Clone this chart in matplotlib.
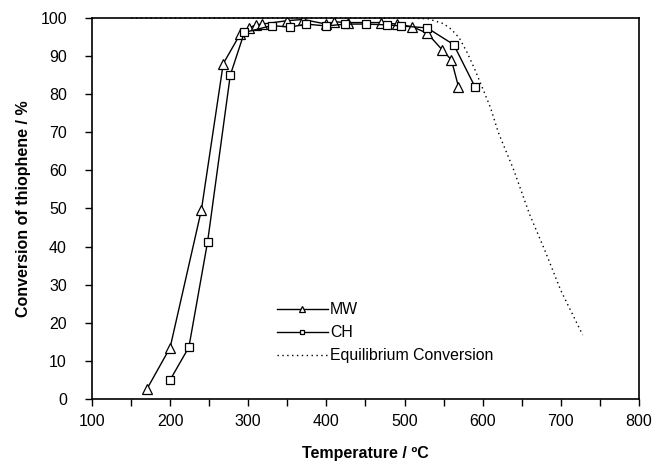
import numpy as np
import matplotlib.pyplot as plt

plt.rcParams['font.family'] = ['Liberation Sans', 'DejaVu Sans']

# MW (microwave) data
mwTemp = [170, 200, 240, 268, 290, 301, 310, 318, 350, 370, 400, 410, 428,
          470, 490, 510, 529, 548, 560, 569]
mwConv = [2.5, 13.5, 49.6, 88, 95.9, 97.4, 98.2, 98.4, 99.3, 99.6, 98.4, 99,
          98.8, 98.8, 98.4, 97.7, 96, 91.7, 89, 82]

# CH (conventional heating) data
chTemp = [200, 224, 248, 277, 295, 330, 354, 374, 400, 424, 451, 477, 496,
          529, 563, 590]
chConv = [5, 13.6, 41.3, 85, 96.2, 98, 97.6, 98.4, 97.9, 98.4, 98.4, 98.2,
          97.9, 97.4, 93, 82]

# equilibrium curve
eqTemp = [150, 500, 530, 550, 560, 570, 580, 590, 600, 610, 620, 640, 660,
          680, 700, 728]
eqConv = [100, 100, 99.8, 98.5, 97, 94.8, 91, 86.5, 81.5, 76.5, 70, 60, 48.5,
          38.8, 28.5, 16.8]

xTicks = [100, 200, 300, 400, 500, 600, 700, 800]
yTicks = [0, 10, 20, 30, 40, 50, 60, 70, 80, 90, 100]

fig = plt.figure(figsize=(6.58, 4.66), dpi=100)
ax = fig.add_axes([0.1398, 0.1438, 0.8312, 0.8176])

ax.plot(mwTemp, mwConv, color='black', lw=1, marker='^', ms=6.5,
        mfc='white', mec='black', mew=0.9, label='MW')
ax.plot(chTemp, chConv, color='black', lw=1, marker='s', ms=5.5,
        mfc='white', mec='black', mew=0.9, label='CH')
ax.plot(eqTemp, eqConv, color='black', lw=1, ls=(0, (1, 2.5)),
        clip_on=False, label='Equilibrium Conversion')

ax.set_xlim(100, 800)
ax.set_ylim(0, 100)
ax.set_xticks(xTicks)
ax.set_xticks(np.arange(150, 800, 100), minor=True)
ax.set_yticks(yTicks)
ax.tick_params(axis='both', which='both', direction='out', length=5,
               width=1, labelsize=11.5, color='black')
ax.tick_params(axis='y', pad=13)
ax.tick_params(axis='x', pad=6)
for s in ax.spines.values():
    s.set_linewidth(1.2)

ax.set_xlabel('Temperature / ºC', fontsize=11.5, fontweight='bold', labelpad=12)
ax.set_ylabel('Conversion of thiophene / %', fontsize=11.5,
              fontweight='bold', labelpad=7)

leg = ax.legend(loc='upper left', bbox_to_anchor=(0.338, 0.254),
                frameon=False, fontsize=11.4, handlelength=3.2,
                handletextpad=0.15, labelspacing=0.5, borderaxespad=0,
                borderpad=0, markerscale=0.65)

fig.savefig('out.png', dpi=100)
